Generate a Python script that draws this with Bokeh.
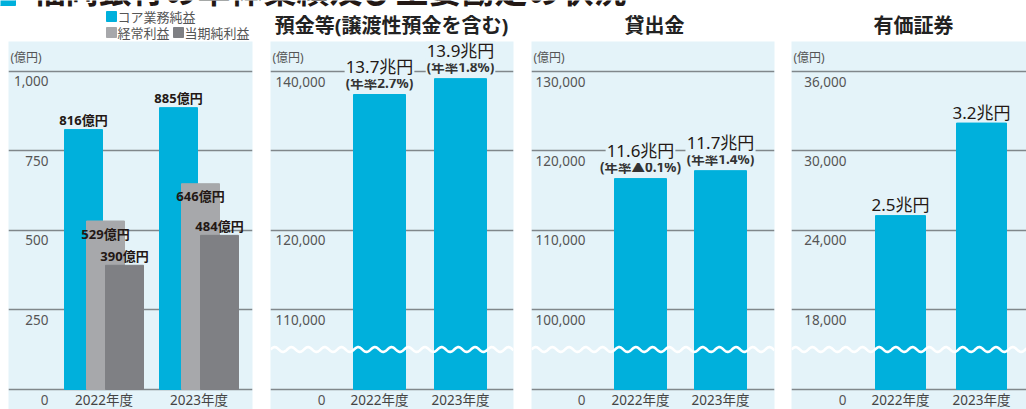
import numpy as np
from bokeh.plotting import figure
from bokeh.models import Range1d, Grid, FixedTicker
from bokeh.layouts import column, row
from bokeh.core.properties import value
from bokeh.embed import file_html
from bokeh.resources import INLINE

# ---------------- data ----------------
years = ["2022年度", "2023年度"]

core_profit = [816, 885]
ordinary_profit = [529, 646]
net_income = [390, 484]
core_labels = ["816億円", "885億円"]
ordinary_labels = ["529億円", "646億円"]
net_labels = ["390億円", "484億円"]

deposits = [137100, 139100]
deposit_labels = ["13.7兆円", "13.9兆円"]
deposit_growth = ["(年率2.7%)", "(年率1.8%)"]

loans = [116500, 117500]
loan_labels = ["11.6兆円", "11.7兆円"]
loan_growth = ["(年率▲0.1%)", "(年率1.4%)"]

securities = [25100, 32100]
securities_labels = ["2.5兆円", "3.2兆円"]

ticks_profit = [250, 500, 750, 1000]
tick_labels_profit = ["250", "500", "750", "1,000"]
ticks_deposit = [110000, 120000, 130000, 140000]
tick_labels_deposit = ["110,000", "120,000", "", "140,000"]
ticks_loan = [100000, 110000, 120000, 130000]
tick_labels_loan = ["100,000", "110,000", "120,000", "130,000"]
ticks_sec = [18000, 24000, 30000, 36000]
tick_labels_sec = ["18,000", "24,000", "30,000", "36,000"]

main_title = "福岡銀行の単体業績及び主要勘定の状況"
panel_titles = ["預金等(譲渡性預金を含む)", "貸出金", "有価証券"]
legend_names = ["コア業務純益", "経常利益", "当期純利益"]
unit_label = "(億円)"

# ---------------- style ----------------
BG = "#e4f3f9"
BLUE = "#00b0dc"
GRAY = "#a7a8ab"
DARK = "#7f8084"
GRID = "#80878b"
TXT = "#555555"
DARKTXT = "#231815"
NUM_FONT = value("Noto Sans, Noto Sans CJK JP")
JP_FONT = value("Noto Sans CJK JP")

HEADER_H = 41
FRAME_TOP, FRAME_BOTTOM, BASE = 41, 409, 389


def lin_range(v_a, px_a, v_b, px_b):
    s = (px_b - px_a) / (v_a - v_b)
    start = v_b - (FRAME_BOTTOM - px_b) / s
    end = v_a + (px_a - FRAME_TOP) / s
    floor = v_b - (BASE - px_b) / s
    return start, end, floor, s


def cat_range(left_px, right_px, c0_px, c1_px):
    u = c1_px - c0_px
    return (left_px - c0_px) / u, (right_px - c0_px) / u, u


def make_panel(width, lb, rb, xr, yr):
    p = figure(width=width, height=FRAME_BOTTOM - FRAME_TOP,
               x_range=Range1d(xr[0], xr[1]), y_range=Range1d(yr[0], yr[1]),
               x_axis_type=None, y_axis_type=None, toolbar_location=None,
               output_backend="svg", min_border_left=lb, min_border_right=rb,
               min_border_top=0, min_border_bottom=0,
               background_fill_color=BG, border_fill_color="white",
               outline_line_color=None)
    return p


def decorate(p, xr, yr, floor, ticks, labels, label_right):
    g = Grid(dimension=1, ticker=FixedTicker(ticks=[floor] + ticks),
             grid_line_color=GRID, grid_line_width=1.3)
    p.add_layout(g)
    p.text(x=[xr[0]] * (len(ticks) + 1), y=[floor] + ticks, text=["0"] + labels,
           x_offset=label_right, y_offset=10, text_align="right",
           text_baseline="middle", text_font=NUM_FONT, text_font_size="13.5px",
           text_color=TXT)
    p.text(x=[0, 1], y=[floor, floor], text=years, y_offset=10,
           text_align="center", text_baseline="middle", text_font=NUM_FONT,
           text_font_size="13.5px", text_color="#444444")
    p.text(x=[xr[0]], y=[yr[1]], text=[unit_label], x_offset=2, y_offset=16,
           text_align="left", text_baseline="middle", text_font=NUM_FONT,
           text_font_size="12px", text_color=TXT)


def wave(p, xr, u, s, floor, first_tick):
    brk = (floor + first_tick) / 2
    wx = np.linspace(xr[0], xr[1], 600)
    wy = brk + (2.4 / s) * np.sin((wx - xr[0]) * u / 16.7 * 2 * np.pi)
    p.line(wx, wy, line_color="white", line_width=2.6)


cats = np.array([0, 1])

# ---------------- panel 1 ----------------
x1 = cat_range(8, 252, 103.5, 198.5)
y1 = lin_range(1000, 70.5, 0, 389)
p1 = make_panel(261, 8, 9, x1, y1)
decorate(p1, x1, y1, y1[2], ticks_profit, tick_labels_profit, 40)
w1 = 38 / x1[2]
offs = [-20.5 / x1[2], 1.5 / x1[2], 20.5 / x1[2]]
p1.vbar(x=cats + offs[0], top=core_profit, bottom=y1[2], width=w1, color=BLUE)
p1.vbar(x=cats + offs[1], top=ordinary_profit, bottom=y1[2], width=w1, color=GRAY)
p1.vbar(x=cats + offs[2], top=net_income, bottom=y1[2], width=w1, color=DARK)
for xs, vals, labs, yo in [(cats + offs[0], core_profit, core_labels, -10),
                           (cats + offs[1], ordinary_profit, ordinary_labels, 12.5),
                           (cats + offs[2], net_income, net_labels, -9)]:
    p1.text(x=xs, y=vals, text=labs, y_offset=yo, text_align="center",
            text_baseline="middle", text_font=NUM_FONT, text_font_size="13px",
            text_font_style="bold", text_color=DARKTXT)

# ---------------- panel 2 ----------------
x2 = cat_range(270, 513, 379, 460)
y2 = lin_range(140000, 71, 110000, 309)
p2 = make_panel(261, 9, 9, x2, y2)
decorate(p2, x2, y2, y2[2], ticks_deposit, tick_labels_deposit, 55)
p2.vbar(x=cats, top=deposits, bottom=y2[2], width=52 / x2[2], color=BLUE)
wave(p2, x2, x2[2], y2[3], y2[2], ticks_deposit[0])

# ---------------- panel 3 ----------------
x3 = cat_range(531, 774, 640, 720)
y3 = lin_range(130000, 71, 100000, 309)
p3 = make_panel(260, 9, 8, x3, y3)
decorate(p3, x3, y3, y3[2], ticks_loan, tick_labels_loan, 54)
p3.vbar(x=cats, top=loans, bottom=y3[2], width=52 / x3[2], color=BLUE)
wave(p3, x3, x3[2], y3[3], y3[2], ticks_loan[0])

# ---------------- panel 4 ----------------
x4 = cat_range(791, 1026, 900, 981)
y4 = lin_range(36000, 71, 18000, 309)
p4 = make_panel(244, 9, 0, x4, y4)
decorate(p4, x4, y4, y4[2], ticks_sec, tick_labels_sec, 55)
p4.vbar(x=cats, top=securities, bottom=y4[2], width=50 / x4[2], color=BLUE)
wave(p4, x4, x4[2], y4[3], y4[2], ticks_sec[0])

# value labels for the balance panels
for p, vals, labs, subs in [(p2, deposits, deposit_labels, deposit_growth),
                            (p3, loans, loan_labels, loan_growth)]:
    p.text(x=cats, y=vals, text=subs, y_offset=-11.5, text_align="center",
           text_baseline="middle", text_font=NUM_FONT, text_font_size="13.5px",
           text_font_style="bold", text_color="#333333",
           background_fill_color=BG, padding=1)
    p.text(x=cats, y=vals, text=labs, y_offset=-28, text_align="center",
           text_baseline="middle", text_font=NUM_FONT, text_font_size="17px",
           text_color=DARKTXT, background_fill_color=BG, padding=1)
p4.text(x=cats, y=securities, text=securities_labels, y_offset=-11,
        text_align="center", text_baseline="middle", text_font=NUM_FONT,
        text_font_size="17px", text_color=DARKTXT)

# ---------------- header ----------------
h = figure(width=1026, height=HEADER_H, x_range=Range1d(0, 1026),
           y_range=Range1d(HEADER_H, 0), x_axis_type=None, y_axis_type=None,
           toolbar_location=None, output_backend="svg", min_border=0,
           outline_line_color=None, background_fill_color="white",
           border_fill_color="white")
h.quad(left=[-12], right=[15], top=[-22], bottom=[5], color=BLUE)
h.text(x=[32], y=[-12], text=[main_title], text_align="left",
       text_baseline="middle", text_font=JP_FONT, text_font_size="33px",
       text_font_style="bold", text_color=DARKTXT)
h.text(x=[391, 654, 913], y=[25, 25, 25], text=panel_titles,
       text_align="center", text_baseline="middle", text_font=NUM_FONT,
       text_font_size="20px", text_font_style="bold", text_color="#222222")
h.quad(left=[106, 106, 173], right=[116, 116, 183], top=[11, 27, 27],
       bottom=[21, 37, 37], color=[BLUE, GRAY, DARK])
h.text(x=[117, 117, 184], y=[16, 32, 32], text=legend_names,
       text_align="left", text_baseline="middle", text_font=JP_FONT,
       text_font_size="13px", text_color=TXT)

layout = column(h, row(p1, p2, p3, p4))
open("out.html", "w").write(file_html(layout, INLINE))
